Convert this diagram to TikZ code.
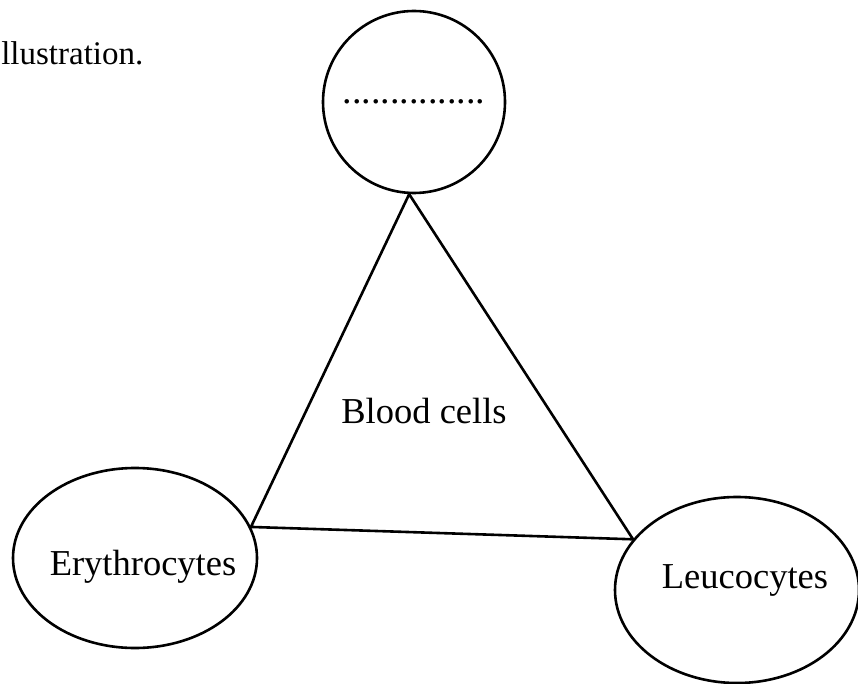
\documentclass[tikz,border=0pt]{standalone}
\usepackage{fontspec}
\setmainfont{Liberation Serif}
\usetikzlibrary{shapes.geometric}

\begin{document}
\begin{tikzpicture}[x=1pt, y=-1pt, line width=2.6pt,
        cell/.style={draw, ellipse, inner sep=0pt},
        celltext/.style={font=\fontsize{36.5}{40}\selectfont},
        cellcircle/.style={cell, circle, minimum size=182pt}]
        \useasboundingbox (0,0) rectangle (858,684);

        % Heading (cut off)
        \node[anchor=base west, inner sep=0pt, font=\fontsize{33}{40}\selectfont] (head) at (0,65) {llustration.};

        % Top circle
        \node[cellcircle, font=\fontsize{38}{40}\selectfont] (top) at (414,102) {...............};

        % Bottom cells
        \node[cell, minimum width=244pt, minimum height=180pt,
              label={[celltext, xshift=8pt, yshift=-8.6pt]center:Erythrocytes}] (ery) at (135,558) {};
        \node[cell, minimum width=244pt, minimum height=186pt,
              label={[celltext, xshift=8pt, yshift=9.4pt]center:Leucocytes}] (leu) at (737,590) {};

        % Triangle
        \draw (top.-93) -- (ery.15) -- (leu.154) -- cycle;
        \node[celltext] (blood) at (424,411) {Blood cells};
    \end{tikzpicture}
\end{document}
